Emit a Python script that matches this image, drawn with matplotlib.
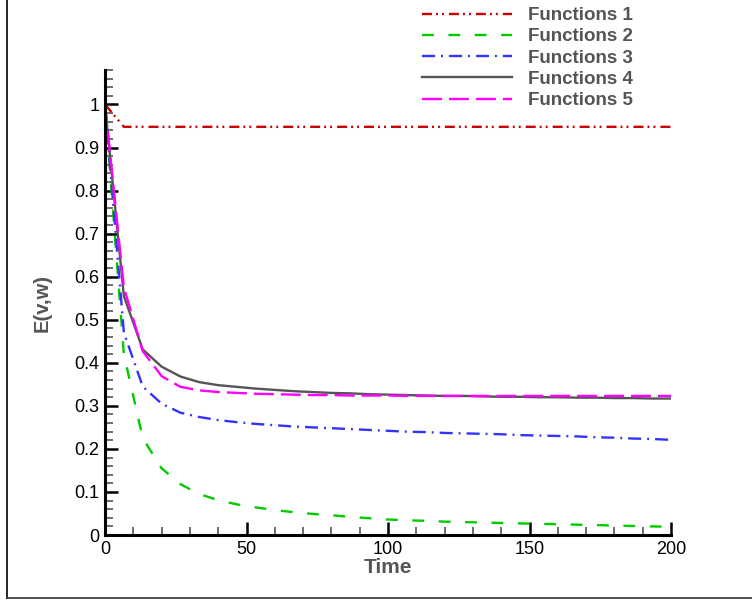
import numpy as np
import matplotlib
matplotlib.use("Agg")
import matplotlib.pyplot as plt
from matplotlib.ticker import MultipleLocator
from matplotlib.lines import Line2D

plt.rcParams['font.family'] = ['Liberation Sans', 'DejaVu Sans']
plt.rcParams['lines.scale_dashes'] = False

time = np.linspace(0, 200, 31)

func1 = [1.0] + [0.948] * 30
func2 = [1.0, 0.42, 0.225, 0.155, 0.118, 0.095, 0.081, 0.071, 0.064, 0.058,
         0.053, 0.049, 0.046, 0.042, 0.039, 0.036, 0.034, 0.033, 0.031, 0.030,
         0.029, 0.028, 0.027, 0.026, 0.025, 0.024, 0.023, 0.022, 0.021, 0.020, 0.019]
func3 = [1.0, 0.47, 0.345, 0.305, 0.284, 0.274, 0.267, 0.262, 0.258, 0.255,
         0.252, 0.250, 0.248, 0.246, 0.244, 0.242, 0.240, 0.239, 0.237, 0.236,
         0.235, 0.234, 0.232, 0.231, 0.230, 0.229, 0.227, 0.226, 0.224, 0.223, 0.221]
func4 = [1.0, 0.555, 0.431, 0.391, 0.368, 0.355, 0.348, 0.344, 0.340, 0.337,
         0.334, 0.332, 0.330, 0.329, 0.327, 0.326, 0.325, 0.324, 0.323, 0.323,
         0.322, 0.321, 0.321, 0.320, 0.320, 0.319, 0.319, 0.318, 0.318, 0.317, 0.317]
func5 = [1.0, 0.575, 0.427, 0.369, 0.344, 0.336, 0.332, 0.330, 0.328, 0.327,
         0.326, 0.325, 0.325, 0.324, 0.324, 0.324, 0.323, 0.323, 0.323, 0.323,
         0.323, 0.323, 0.323, 0.323, 0.323, 0.323, 0.323, 0.323, 0.323, 0.323, 0.323]

labels = ["Functions 1", "Functions 2", "Functions 3", "Functions 4", "Functions 5"]
colors = ["#CC0000", "#00CC00", "#3333FF", "#555555", "#FF00FF"]
styles = [(0, (7.2, 2.9, 1.4, 2.9, 1.4, 3.6)),
          (0, (8.5, 10.5)),
          (0, (9.4, 4.3, 1.4, 4.3)),
          '-',
          (0, (14.4, 5.0))]

fig = plt.figure(figsize=(7.52, 6.01), dpi=100)
ax = fig.add_axes([105/752, 1 - 535/601, 566/752, 465/601])

series = [func1, func2, func3, func4, func5]
for y, lab, c, ls in zip(series, labels, colors, styles):
    ax.plot(time, y, color=c, linestyle=ls, linewidth=1.7, label=lab)

ax.set_xlim(0, 200)
ax.set_ylim(0, 1.08)
ax.xaxis.set_major_locator(MultipleLocator(50))
ax.xaxis.set_minor_locator(MultipleLocator(10))
ax.yaxis.set_minor_locator(MultipleLocator(0.02))
ax.set_yticks(np.arange(0, 1.01, 0.1))
ax.set_yticklabels(["0", "0.1", "0.2", "0.3", "0.4", "0.5", "0.6", "0.7", "0.8", "0.9", "1"])

for s in ['top', 'right']:
    ax.spines[s].set_visible(False)
for s in ['left', 'bottom']:
    ax.spines[s].set_linewidth(2.2)
    ax.spines[s].set_color('black')

ax.tick_params(which='major', direction='in', length=9.5, width=1.8, color='black',
               labelsize=13, pad=4)
ax.tick_params(which='minor', direction='in', length=5.5, width=1.2, color='#555555')

ax.set_xlabel("Time", fontsize=15, fontweight='bold', color='#555555', labelpad=0.5)
ax.set_ylabel("E(v,w)", fontsize=14.5, fontweight='bold', color='#555555', labelpad=16)

fig.legend(loc='upper left', bbox_to_anchor=(422/752, 1 - 7.0/601), frameon=False,
           borderpad=0, borderaxespad=0, handlelength=4.8, handletextpad=0.84,
           labelspacing=0.22, prop={'weight': 'bold', 'size': 13.5}, labelcolor='#555555')

fig.add_artist(Line2D([7/752, 7/752], [3/601, 1], transform=fig.transFigure,
                      color='black', linewidth=1.2))
fig.add_artist(Line2D([7/752, 1], [3/601, 3/601], transform=fig.transFigure,
                      color='#333333', linewidth=1.2))

fig.savefig("out.png", dpi=100)
